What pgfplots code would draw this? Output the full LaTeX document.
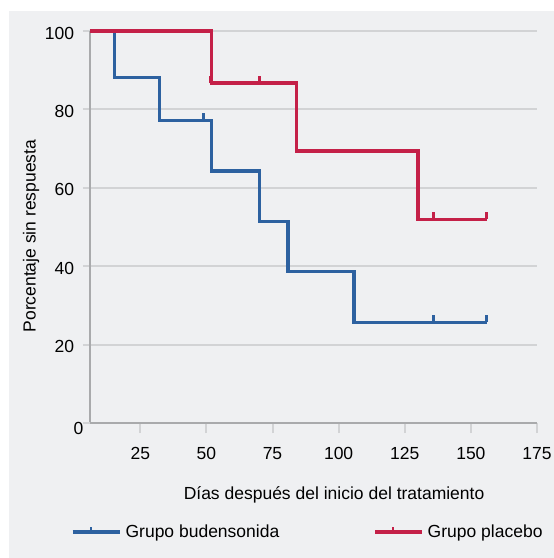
\documentclass[border=0pt]{standalone}
\usepackage{fontspec}
\setmainfont{Liberation Sans}
\usepackage{pgfplots}
\pgfplotsset{compat=1.18}

\definecolor{budblue}{HTML}{2D61A0}
\definecolor{plared}{HTML}{C42048}
\definecolor{panel}{HTML}{EFF0F2}
\definecolor{gridc}{HTML}{D2D3D5}
\definecolor{axisc}{HTML}{A9AAAC}

% censoring mark: short upward stroke from the curve
\pgfdeclareplotmark{cens}{%
  \pgfpathmoveto{\pgfpointorigin}%
  \pgfpathlineto{\pgfpoint{0pt}{7pt}}%
  \pgfusepathqstroke}

\begin{document}
\begin{tikzpicture}[font=\fontsize{17.5}{20}\selectfont]
\fill[white] (-90pt,-135pt) rectangle (464pt,423pt);
\fill[panel] (-81pt,-135pt) rectangle (464pt,412pt);
\path[use as bounding box] (-90pt,-135pt) rectangle (464pt,423pt);
\begin{axis}[
  at={(0pt,0pt)}, anchor=south west,
  scale only axis, width=447pt, height=392pt,
  xmin=6, xmax=175, ymin=0, ymax=100,
  clip=false,
  /pgf/number format/assume math mode=true,
  axis lines=left,
  axis line style={axisc, line width=2.5pt, -},
  x axis line style={-}, y axis line style={-},
  xtick={25,50,...,175}, ytick={20,40,...,100},
  extra y ticks={0},
  extra y tick style={grid=none, major tick length=0pt,
    yticklabel style={xshift=5pt, yshift=-3pt}},
  ymajorgrids,
  grid style={gridc, line width=2pt},
  tick align=outside,
  xtick style={gridc, line width=2pt, /pgfplots/major tick length=10pt},
  ytick style={gridc, line width=2pt, /pgfplots/major tick length=7pt},
  yticklabel style={anchor=east, xshift=-8pt, yshift=-2pt},
  xticklabel style={anchor=center, yshift=-26pt},
  xlabel={Días después del inicio del tratamiento},
  ylabel={Porcentaje sin respuesta},
  xlabel style={at={([yshift=-72pt]axis description cs:0.546,0)}, anchor=center},
  ylabel style={at={([xshift=-59pt]axis description cs:0,0.477)}, anchor=center},
  legend columns=2,
  legend style={draw=none, fill=none, at={([xshift=-22pt, yshift=-109pt]axis description cs:0,0)},
    anchor=west, /tikz/every even column/.append style={column sep=90pt},
    nodes={inner sep=4pt}},
]
% Grupo budensonida
\addplot[const plot, budblue, line width=3.3pt,
  legend image code/.code={
    \path (0pt,0pt) -- (47pt,0pt);
    \draw[budblue, line width=3.5pt] (0pt,0pt) -- (36pt,0pt);
    \draw[budblue, line width=2.5pt] (18pt,0pt) -- (18pt,5pt);}]
  coordinates {(6,100) (15.2,88.2) (32.2,77.2) (52,64.3) (70.2,51.4) (80.9,38.6) (105.8,25.7) (156,25.7)};
\addlegendentry{Grupo budensonida}
% Grupo placebo
\addplot[const plot, plared, line width=3.3pt,
  legend image code/.code={
    \path (0pt,0pt) -- (47pt,0pt);
    \draw[plared, line width=3.5pt] (0pt,0pt) -- (36pt,0pt);
    \draw[plared, line width=2.5pt] (18pt,0pt) -- (18pt,5pt);}]
  coordinates {(6,100) (52,86.7) (84,69.4) (130,52.0) (156,52.0)};
\addlegendentry{Grupo placebo}
% censored observations
\addplot[only marks, mark=cens, budblue, mark options={line width=3pt}, forget plot]
  coordinates {(49,77.2) (136,25.7) (156,25.7)};
\addplot[only marks, mark=cens, plared, mark options={line width=3pt}, forget plot]
  coordinates {(51.5,86.7) (70,86.7) (136,52.0) (156,52.0)};
\end{axis}
\end{tikzpicture}
\end{document}
